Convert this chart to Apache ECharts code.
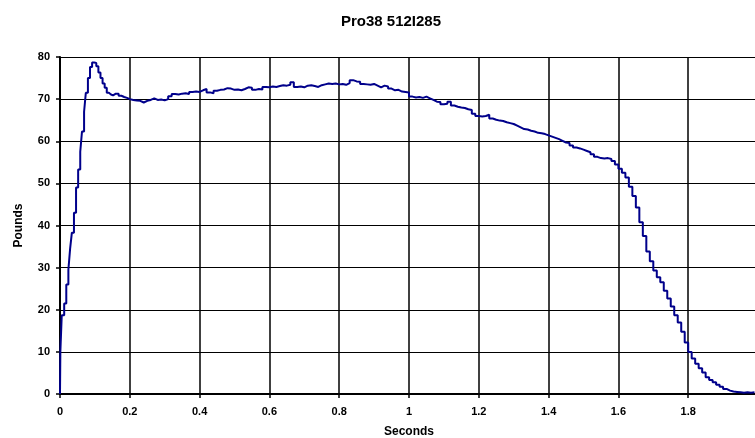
<!DOCTYPE html>
<html>
<head>
<meta charset="utf-8">
<script src="https://cdn.jsdelivr.net/npm/echarts@6/dist/echarts.min.js"></script>
<style>html,body{margin:0;padding:0;background:#fff;}#c{width:755px;height:438px;}</style>
</head>
<body>
<div id="c"></div>
<script>
var titleText = "Pro38 512I285";
var xName = "Seconds";
var yName = "Pounds";
var seconds = [0,0.001,0.005,0.012,0.018,0.024,0.029,0.034,0.040,0.046,0.052,0.058,0.063,0.069,0.074,0.080,0.086,0.092,0.098,0.104,0.110,0.116,0.122,0.128,0.134,0.140,0.146,0.152,0.160,0.168,0.176,0.184,0.192,
0.20,0.21,0.22,0.23,0.24,0.25,0.26,0.27,0.28,0.29,0.30,0.31,0.32,0.33,0.34,0.35,0.36,0.37,0.38,0.39,
0.40,0.41,0.42,0.43,0.44,0.45,0.46,0.47,0.48,0.49,0.50,0.51,0.52,0.53,0.54,0.55,0.56,0.57,0.58,0.59,
0.60,0.61,0.62,0.63,0.64,0.65,0.66,0.67,0.68,0.69,0.70,0.71,0.72,0.73,0.74,0.75,0.76,0.77,0.78,0.79,
0.80,0.81,0.82,0.83,0.84,0.85,0.86,0.87,0.88,0.89,0.90,0.91,0.92,0.93,0.94,0.95,0.96,0.97,0.98,0.99,
1.00,1.01,1.02,1.03,1.04,1.05,1.06,1.07,1.08,1.09,1.10,1.11,1.12,1.13,1.14,1.15,1.16,1.17,1.18,1.19,
1.20,1.21,1.22,1.23,1.24,1.25,1.26,1.27,1.28,1.29,1.30,1.31,1.32,1.33,1.34,1.35,1.36,1.37,1.38,1.39,
1.40,1.41,1.42,1.43,1.44,1.45,1.46,1.47,1.48,1.49,1.50,1.51,1.52,1.53,1.54,1.55,1.56,1.57,1.58,1.59,
1.60,1.61,1.62,1.63,1.64,1.65,1.66,1.67,1.68,1.69,1.70,1.71,1.72,1.73,1.74,1.75,1.76,1.77,1.78,1.79,
1.80,1.81,1.82,1.83,1.84,1.85,1.86,1.87,1.88,1.89,1.90,1.91,1.92,1.93,1.94,1.95,1.96,1.97,1.98,1.99];
var pounds = [0,10,18.7,21.5,26,29.5,34.5,38.3,43,49,53.3,57.5,62.3,67,71.5,75,77.6,78.7,78.6,77.8,76.3,75,73.7,72.7,71.5,71.1,70.9,71.3,71.3,70.8,70.5,70.3,70.0,
69.8,69.7,69.6,69.2,69.6,69.8,70.2,69.8,69.9,69.7,70.0,70.7,71.2,71.1,71.3,71.4,71.2,71.7,71.8,71.7,
72.1,72.4,71.6,71.4,72.0,72.2,72.3,72.6,72.5,72.2,72.3,72.1,72.4,72.8,72.7,72.2,72.4,72.3,72.9,72.8,
73.0,72.9,73.1,73.3,73.2,73.4,74.0,72.9,73.0,72.8,73.2,73.3,73.1,72.9,73.3,73.5,73.7,73.6,73.7,73.5,
73.6,73.4,73.8,74.5,74.2,74.1,73.6,73.5,73.4,73.6,73.2,72.8,73.2,73.0,72.5,72.1,72.2,71.8,71.7,71.6,
70.6,70.4,70.5,70.3,70.6,70.2,69.8,69.4,69.3,68.8,68.9,69.4,68.5,68.2,68.0,67.9,67.6,67.4,66.5,66.0,
65.9,66.0,66.3,65.4,65.1,64.9,64.8,64.5,64.3,64.1,63.7,63.3,62.9,62.8,62.5,62.3,62.0,61.9,61.7,61.4,
61.1,60.8,60.5,60.1,59.7,59.6,59.0,58.5,58.3,58.0,57.7,57.4,56.9,56.3,56.0,55.9,56.0,55.8,55.3,54.5,
53.5,52.5,51.4,49.2,47.0,44.3,40.8,37.5,33.8,31.5,29.3,27.7,26.5,24.5,22.7,20.8,18.7,17.0,14.8,12.2,
10.0,8.4,7.2,6.1,5.1,4.0,3.3,2.8,2.2,1.7,1.2,0.8,0.6,0.5,0.4,0.3,0.4,0.3,0.4,0.3];

var seriesData = seconds.map(function (t, i) { return [t, pounds[i]]; });
var font = "Liberation Sans, Arial, sans-serif";
var chart = echarts.init(document.getElementById('c'), null, {renderer: 'canvas'});
chart.setOption({
  animation: false,
  backgroundColor: '#ffffff',
  title: {
    text: titleText, left: 386, top: 9, textAlign: 'center',
    textStyle: {fontFamily: font, fontWeight: 'bold', fontSize: 15, color: '#000'}
  },
  grid: {left: 60, top: 57, width: 698, height: 337, containLabel: false, outerBoundsMode: 'none'},
  xAxis: {
    type: 'value', min: 0, max: 2, interval: 0.2,
    name: xName, nameLocation: 'middle', nameGap: 32,
    nameTextStyle: {fontFamily: font, fontWeight: 'bold', fontSize: 12, color: '#000'},
    axisLine: {show: true, onZero: false, lineStyle: {color: '#000', width: 2}},
    axisTick: {show: true, length: 4, inside: false, lineStyle: {color: '#000', width: 1.5}},
    axisLabel: {fontFamily: font, fontWeight: 'bold', fontSize: 11, color: '#000', margin: 12,
      showMaxLabel: true, showMinLabel: true, hideOverlap: false,
      formatter: function (v) { return String(Math.round(v * 10) / 10); }},
    splitLine: {show: true, lineStyle: {color: '#000', width: 1.5}}
  },
  yAxis: {
    type: 'value', min: 0, max: 80, interval: 10,
    name: yName, nameLocation: 'middle', nameGap: 35,
    nameTextStyle: {fontFamily: font, fontWeight: 'bold', fontSize: 12, color: '#000'},
    axisLine: {show: true, onZero: false, lineStyle: {color: '#000', width: 2}},
    axisTick: {show: true, length: 4, inside: false, lineStyle: {color: '#000', width: 1.5}},
    axisLabel: {fontFamily: font, fontWeight: 'bold', fontSize: 11, color: '#000', margin: 10},
    splitLine: {show: true, lineStyle: {color: '#000', width: 1.2}}
  },
  series: [{
    type: 'line', data: seriesData, step: 'end', showSymbol: false, symbol: 'none',
    lineStyle: {color: '#00008b', width: 2}, clip: true
  }]
});
</script>
</body>
</html>
